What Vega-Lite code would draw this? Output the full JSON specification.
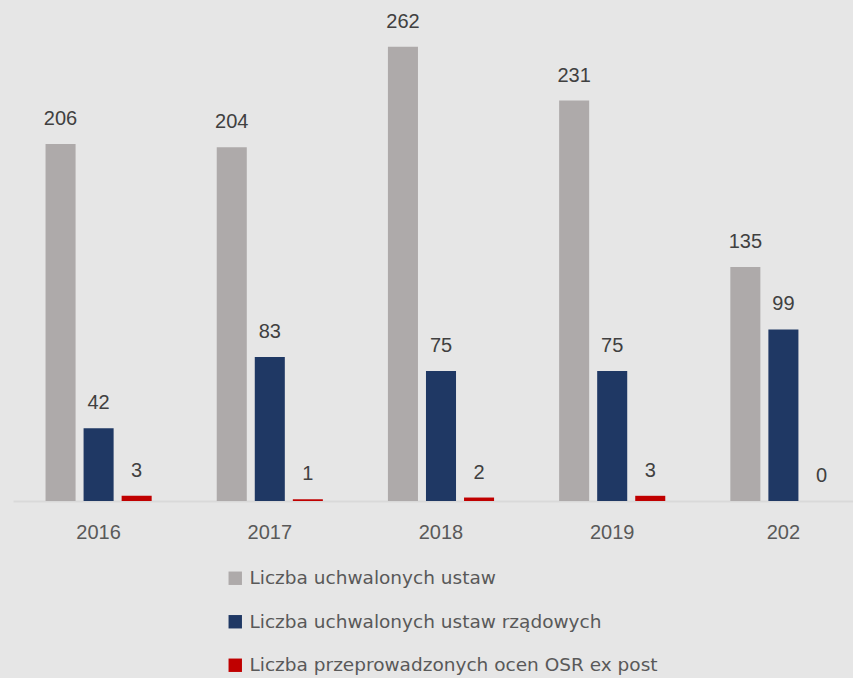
{
  "$schema": "https://vega.github.io/schema/vega-lite/v6.json",
  "autosize": "none",
  "width": 840,
  "height": 501,
  "padding": {"left": 13, "top": 0, "right": 0, "bottom": 177},
  "background": "#e6e6e6",
  "config": {
    "view": {"stroke": null},
    "axis": {"grid": false}
  },
  "data": {
    "values": [
      {"year": "2016", "series": "Liczba uchwalonych ustaw", "value": 206},
      {"year": "2016", "series": "Liczba uchwalonych ustaw rządowych", "value": 42},
      {"year": "2016", "series": "Liczba przeprowadzonych ocen OSR ex post", "value": 3},
      {"year": "2017", "series": "Liczba uchwalonych ustaw", "value": 204},
      {"year": "2017", "series": "Liczba uchwalonych ustaw rządowych", "value": 83},
      {"year": "2017", "series": "Liczba przeprowadzonych ocen OSR ex post", "value": 1},
      {"year": "2018", "series": "Liczba uchwalonych ustaw", "value": 262},
      {"year": "2018", "series": "Liczba uchwalonych ustaw rządowych", "value": 75},
      {"year": "2018", "series": "Liczba przeprowadzonych ocen OSR ex post", "value": 2},
      {"year": "2019", "series": "Liczba uchwalonych ustaw", "value": 231},
      {"year": "2019", "series": "Liczba uchwalonych ustaw rządowych", "value": 75},
      {"year": "2019", "series": "Liczba przeprowadzonych ocen OSR ex post", "value": 3},
      {"year": "2020", "series": "Liczba uchwalonych ustaw", "value": 135},
      {"year": "2020", "series": "Liczba uchwalonych ustaw rządowych", "value": 99},
      {"year": "2020", "series": "Liczba przeprowadzonych ocen OSR ex post", "value": 0}
    ]
  },
  "encoding": {
    "x": {
      "field": "year", "type": "nominal",
      "scale": {"range": [0, 856], "paddingInner": 0, "paddingOuter": 0},
      "axis": {
        "title": null, "ticks": false, "labelAngle": 0,
        "domainColor": "#d9d9d9", "domainWidth": 2,
        "labelFont": "Liberation Sans", "labelFontSize": 20, "labelColor": "#595959",
        "labelPadding": 21,
        "labelExpr": "datum.label == '2020' ? '202' : datum.label"
      }
    },
    "xOffset": {
      "field": "series", "type": "nominal",
      "sort": ["Liczba uchwalonych ustaw", "Liczba uchwalonych ustaw rządowych", "Liczba przeprowadzonych ocen OSR ex post"],
      "scale": {"paddingInner": 0.2105, "paddingOuter": 0.855}
    },
    "y": {
      "field": "value", "type": "quantitative",
      "scale": {"domain": [0, 289]},
      "axis": null
    }
  },
  "layer": [
    {
      "mark": {"type": "bar"},
      "encoding": {
        "color": {
          "field": "series", "type": "nominal",
          "sort": ["Liczba uchwalonych ustaw", "Liczba uchwalonych ustaw rządowych", "Liczba przeprowadzonych ocen OSR ex post"],
          "scale": {"range": ["#aeaaaa", "#1f3864", "#c00000"]},
          "legend": {
            "title": null,
            "orient": "none",
            "legendX": 213,
            "legendY": 569,
            "direction": "vertical",
            "symbolType": "square",
            "symbolSize": 180,
            "symbolStrokeWidth": 0,
            "symbolOffset": 0,
            "labelFont": "DejaVu Sans",
            "labelFontSize": 18.5,
            "labelColor": "#595959",
            "labelOffset": 5,
            "rowPadding": 24.5,
            "labelLimit": 600
          }
        }
      }
    },
    {
      "mark": {"type": "text", "baseline": "alphabetic", "dy": -19, "font": "Liberation Sans", "fontSize": 20, "color": "#404040"},
      "encoding": {
        "text": {"field": "value", "type": "quantitative"}
      }
    }
  ]
}
